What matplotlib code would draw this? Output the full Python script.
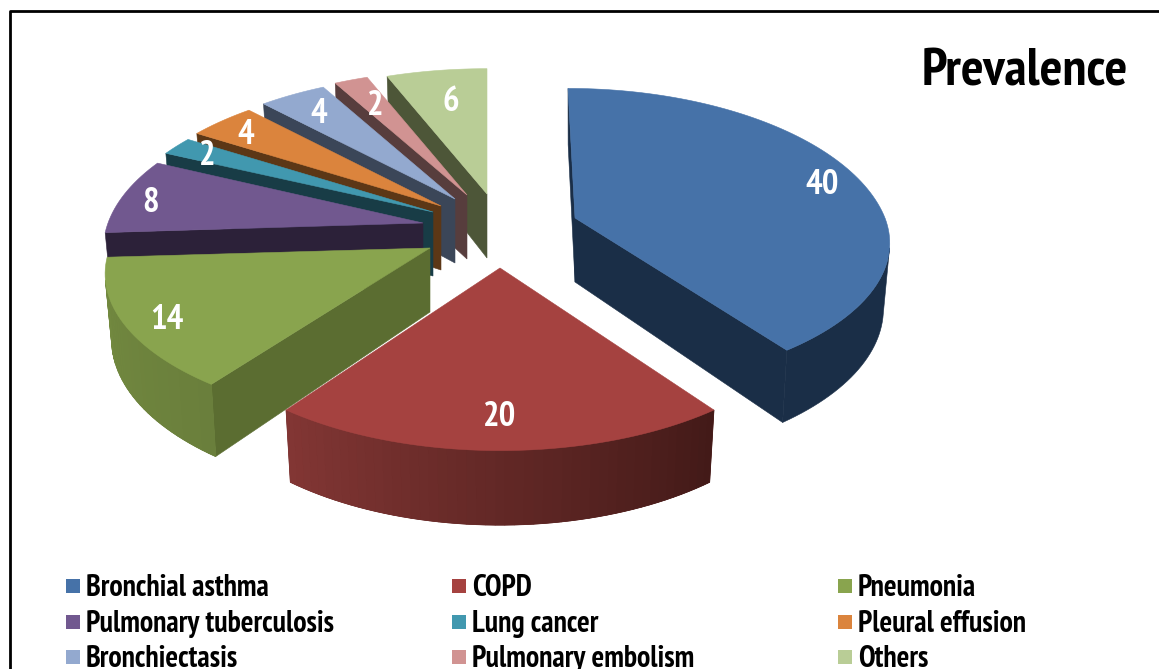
import matplotlib
matplotlib.use('Agg')
import matplotlib.pyplot as plt
import matplotlib.colors as mcolors
import numpy as np
from matplotlib.patches import Polygon, Rectangle

categories = ['Bronchial asthma', 'COPD', 'Pneumonia',
              'Pulmonary tuberculosis', 'Lung cancer', 'Pleural effusion',
              'Bronchiectasis', 'Pulmonary embolism', 'Others']
values = [40, 20, 14, 8, 2, 4, 4, 2, 6]
title = 'Prevalence'

top_colors = ['#4672A8', '#A54240', '#89A44E', '#71588F', '#4198AF',
              '#DB843D', '#93A9CF', '#D19392', '#B9CD96']
cut_colors = ['#1A2E47', '#431A18', '#5B6D31', '#2C2139', '#183C46',
              '#5C3716', '#3B4658', '#573D3D', '#4D5638']
wall_from = ['#1A2E47', '#431A18', '#6A7F3C', '#2C2139', '#183C46',
             '#5C3716', '#3B4658', '#573D3D', '#4D5638']
wall_to = ['#1A2E47', '#823634', '#748B40', '#2C2139', '#183C46',
           '#5C3716', '#3B4658', '#573D3D', '#4D5638']

# exploded slice tips, in pixels
apex_x = [575, 500, 430, 423, 433, 441, 455, 467, 487]
apex_y = [218, 268, 248, 223, 212, 206, 199, 195, 194]
label_x = [822, 500, 167, 151, 207, 246, 319, 375, 451]
label_y = [185, 417, 320, 203, 156, 135, 114, 106, 102]

# per slice fit of the perspective
slice_rx = [310, 313, 320, 315, 317, 316, 315, 315, 315]
slice_ry = [152, 151, 151, 151, 148, 148, 147, 147, 147]
front_ry = [0.925, 1, 0.96, 1, 1, 1, 1, 1, 1]
back_lean = [7, 0, 0, 0, 0, 0, 0, 0, 0]

PERSP, DEPTH = 0.173, 64
BOTTOM_X = 0.98
NARROW = ['PT Sans Narrow', 'Liberation Sans', 'DejaVu Sans']

fig = plt.figure(figsize=(11.59, 6.69), dpi=100, facecolor='white')
ax = fig.add_axes([0, 0, 1, 1])
ax.set_xlim(0, 1159)
ax.set_ylim(669, 0)
ax.axis('off')

# chart frame, only top and left show in the crop
ax.plot([9.5, 9.5, 1159], [669, 10.5, 10.5], color='black', lw=2.0, solid_capstyle='butt')


def project(i, ang):
    u, v = np.sin(ang), np.cos(ang)
    s = 1 / (1 + PERSP * v)
    x = apex_x[i] + u * slice_rx[i] * s - back_lean[i] * np.clip(v, 0, 1)
    ry = slice_ry[i] * np.where(v < 0, front_ry[i], 1)
    y = apex_y[i] - v * ry * s
    xb = apex_x[i] + (x - apex_x[i]) * BOTTOM_X
    yb = y + DEPTH * s ** 0.8
    return x, y, xb, yb


def signed_area(p):
    q = np.roll(p, -1, axis=0)
    return np.sum(p[:, 0] * q[:, 1] - q[:, 0] * p[:, 1])


def draw_slice(i, a0, a1):
    angs = np.linspace(a0, a1, max(int((a1 - a0) * 40), 4))
    x, y, xb, yb = project(i, angs)
    ax0, ay0 = apex_x[i], apex_y[i]
    ayb = ay0 + DEPTH

    # the two cut faces
    quads = [[[ax0, ay0], [x[0], y[0]], [xb[0], yb[0]], [ax0, ayb]],
             [[x[-1], y[-1]], [ax0, ay0], [ax0, ayb], [xb[-1], yb[-1]]]]
    for quad in quads:
        quad = np.array(quad)
        if signed_area(quad) < 0:
            ax.add_patch(Polygon(quad, fc=cut_colors[i], ec=cut_colors[i], lw=0.4))

    # outer wall: a flat base, then strips so the shading can run along it
    c0 = np.array(mcolors.to_rgb(wall_from[i]))
    c1 = np.array(mcolors.to_rgb(wall_to[i]))
    strips = []
    for k in range(len(angs) - 1):
        quad = np.array([[x[k], y[k]], [x[k + 1], y[k + 1]],
                         [xb[k + 1], yb[k + 1]], [xb[k], yb[k]]])
        if signed_area(quad) < 0:
            strips.append((k, quad))
    if strips:
        ks = [s[0] for s in strips]
        k0, k1 = ks[0], ks[-1] + 1
        base = np.r_[np.column_stack([x[k0:k1 + 1], y[k0:k1 + 1]]),
                     np.column_stack([xb[k0:k1 + 1], yb[k0:k1 + 1]])[::-1]]
        mid = (c0 + c1) / 2
        ax.add_patch(Polygon(base, fc=mid, ec=mid, lw=0.4))
        if wall_from[i] != wall_to[i]:
            for k, quad in strips:
                col = c0 + (c1 - c0) * k / (len(angs) - 2)
                ax.add_patch(Polygon(quad, fc=col, ec=col, lw=0.6))

    top = np.column_stack([np.r_[ax0, x], np.r_[ay0, y]])
    ax.add_patch(Polygon(top, fc=top_colors[i], ec=top_colors[i], lw=0.4))


edges = np.r_[0, np.cumsum(values)] / np.sum(values) * 2 * np.pi
for i in [8, 7, 6, 5, 4, 3, 2, 0, 1]:
    draw_slice(i, edges[i], edges[i + 1])

for i, val in enumerate(values):
    ax.text(label_x[i], label_y[i], str(val), color='white', fontsize=25,
            fontweight='bold', family=NARROW, ha='center', va='center')

ax.text(1128, 72, title, color='black', fontsize=38.5, fontweight='bold',
        family=NARROW, ha='right', va='center')

# legend, three columns
for i, name in enumerate(categories):
    row, col = i // 3, i % 3
    sq_x = [66, 452, 838][col]
    yy = [586, 622, 657][row]
    ax.add_patch(Rectangle((sq_x, yy - 7), 14, 14, fc=top_colors[i], ec='none'))
    ax.text(sq_x + 20, yy + 2, name, color='black', fontsize=21.5, fontweight='bold',
            family=NARROW, ha='left', va='center')

fig.savefig('out.png', dpi=100, facecolor='white')
